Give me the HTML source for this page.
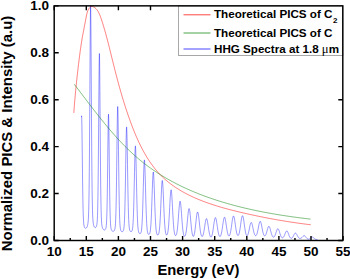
<!DOCTYPE html>
<html><head><meta charset="utf-8"><style>
html,body{margin:0;padding:0;background:#fff;overflow:hidden;}
svg{display:block;}
text{font-family:"Liberation Sans", sans-serif;font-weight:bold;fill:#000;}
</style></head><body>
<svg width="350" height="279" viewBox="0 0 350 279">
<rect width="350" height="279" fill="#fff"/>
<path d="M81.50,116.98 L81.60,115.80 L81.70,116.94 L81.90,125.54 L82.10,140.08 L82.30,157.10 L82.50,173.86 L82.70,188.64 L82.90,200.60 L83.10,209.62 L83.30,216.01 L83.50,220.32 L83.70,223.12 L83.90,224.91 L84.10,226.05 L84.30,226.81 L84.50,227.33 L84.70,227.70 L84.90,227.95 L85.10,228.13 L85.30,228.24 L85.50,228.29 L85.70,228.29 L85.90,228.24 L86.10,228.14 L86.30,227.98 L86.50,227.77 L86.70,227.49 L86.90,227.15 L87.10,226.72 L87.30,226.20 L87.50,225.54 L87.70,224.70 L87.90,223.58 L88.10,222.02 L88.30,219.70 L88.50,216.15 L88.70,210.60 L88.90,202.07 L89.10,189.41 L89.30,171.54 L89.50,147.87 L89.70,118.71 L89.90,85.76 L90.10,52.45 L90.30,24.14 L90.50,7.43 L90.60,5.20 L90.70,7.43 L90.90,24.12 L91.10,52.43 L91.30,85.73 L91.50,118.67 L91.70,147.82 L91.90,171.49 L92.10,189.34 L92.30,202.00 L92.50,210.51 L92.70,216.04 L92.90,219.58 L93.10,221.88 L93.30,223.42 L93.50,224.51 L93.70,225.32 L93.90,225.95 L94.10,226.44 L94.30,226.82 L94.50,227.12 L94.70,227.34 L94.90,227.49 L95.10,227.58 L95.30,227.60 L95.50,227.56 L95.70,227.45 L95.90,227.26 L96.10,226.99 L96.30,226.62 L96.50,226.09 L96.70,225.35 L96.90,224.25 L97.10,222.56 L97.30,219.87 L97.50,215.59 L97.70,208.91 L97.90,198.91 L98.10,184.74 L98.30,165.93 L98.50,142.77 L98.70,116.69 L98.90,90.43 L99.10,68.24 L99.30,55.22 L99.40,53.50 L99.50,55.26 L99.70,68.35 L99.90,90.61 L100.10,116.94 L100.30,143.10 L100.50,166.33 L100.70,185.22 L100.90,199.47 L101.10,209.55 L101.30,216.31 L101.50,220.68 L101.70,223.46 L101.90,225.24 L102.10,226.44 L102.30,227.29 L102.50,227.92 L102.70,228.42 L102.90,228.81 L103.10,229.14 L103.30,229.40 L103.50,229.60 L103.70,229.76 L103.90,229.88 L104.10,229.96 L104.30,230.00 L104.50,230.00 L104.70,229.95 L104.90,229.86 L105.10,229.72 L105.30,229.52 L105.50,229.23 L105.70,228.80 L105.90,228.16 L106.10,227.16 L106.30,225.56 L106.50,223.02 L106.70,219.06 L106.90,213.11 L107.10,204.63 L107.30,193.25 L107.50,179.04 L107.70,162.64 L107.90,145.46 L108.10,129.73 L108.30,118.38 L108.50,114.20 L108.50,114.20 L108.70,118.43 L108.90,129.84 L109.10,145.62 L109.30,162.85 L109.50,179.31 L109.70,193.57 L109.90,205.00 L110.10,213.53 L110.30,219.54 L110.50,223.56 L110.70,226.16 L110.90,227.81 L111.10,228.87 L111.30,229.57 L111.50,230.06 L111.70,230.41 L111.90,230.68 L112.10,230.89 L112.30,231.05 L112.50,231.16 L112.70,231.24 L112.90,231.29 L113.10,231.30 L113.30,231.28 L113.50,231.22 L113.70,231.13 L113.90,231.00 L114.10,230.81 L114.30,230.55 L114.50,230.19 L114.70,229.68 L114.90,228.91 L115.10,227.74 L115.30,225.94 L115.50,223.21 L115.70,219.15 L115.90,213.32 L116.10,205.30 L116.30,194.81 L116.50,181.81 L116.70,166.69 L116.90,150.30 L117.10,134.06 L117.30,119.89 L117.50,110.04 L117.70,106.50 L117.70,106.50 L117.90,110.08 L118.10,119.96 L118.30,134.16 L118.50,150.43 L118.70,166.85 L118.90,182.00 L119.10,195.03 L119.30,205.55 L119.50,213.60 L119.70,219.46 L119.90,223.54 L120.10,226.29 L120.30,228.11 L120.50,229.30 L120.70,230.08 L120.90,230.61 L121.10,230.98 L121.30,231.25 L121.50,231.44 L121.70,231.57 L121.90,231.65 L122.10,231.69 L122.30,231.69 L122.50,231.65 L122.70,231.56 L122.90,231.40 L123.10,231.16 L123.30,230.80 L123.50,230.25 L123.70,229.42 L123.90,228.18 L124.10,226.33 L124.30,223.63 L124.50,219.82 L124.70,214.61 L124.90,207.78 L125.10,199.18 L125.30,188.88 L125.50,177.17 L125.70,164.64 L125.90,152.17 L126.10,140.92 L126.30,132.27 L126.50,127.52 L126.60,126.90 L126.70,127.51 L126.90,132.24 L127.10,140.88 L127.30,152.11 L127.50,164.56 L127.70,177.08 L127.90,188.78 L128.10,199.06 L128.30,207.64 L128.50,214.47 L128.70,219.67 L128.90,223.47 L129.10,226.16 L129.30,228.00 L129.50,229.25 L129.70,230.07 L129.90,230.62 L130.10,230.99 L130.30,231.24 L130.50,231.41 L130.70,231.52 L130.90,231.58 L131.10,231.60 L131.30,231.57 L131.50,231.49 L131.70,231.33 L131.90,231.06 L132.10,230.64 L132.30,229.98 L132.50,228.99 L132.70,227.54 L132.90,225.46 L133.10,222.58 L133.30,218.72 L133.50,213.72 L133.70,207.50 L133.90,200.07 L134.10,191.56 L134.30,182.29 L134.50,172.73 L134.70,163.55 L134.90,155.52 L135.10,149.51 L135.30,146.29 L135.40,145.90 L135.50,146.35 L135.70,149.67 L135.90,155.79 L136.10,163.92 L136.30,173.22 L136.50,182.87 L136.70,192.25 L136.90,200.86 L137.10,208.39 L137.30,214.71 L137.50,219.80 L137.70,223.75 L137.90,226.72 L138.10,228.89 L138.30,230.43 L138.50,231.50 L138.70,232.24 L138.90,232.74 L139.10,233.08 L139.30,233.31 L139.50,233.46 L139.70,233.55 L139.90,233.60 L140.10,233.59 L140.30,233.53 L140.50,233.39 L140.70,233.14 L140.90,232.76 L141.10,232.17 L141.30,231.30 L141.50,230.07 L141.70,228.35 L141.90,226.02 L142.10,222.97 L142.30,219.09 L142.50,214.31 L142.70,208.63 L142.90,202.13 L143.10,194.98 L143.30,187.46 L143.50,179.94 L143.70,172.92 L143.90,166.93 L144.10,162.53 L144.30,160.19 L144.40,159.90 L144.50,160.21 L144.70,162.58 L144.90,167.01 L145.10,173.04 L145.30,180.10 L145.50,187.64 L145.70,195.20 L145.90,202.39 L146.10,208.93 L146.30,214.64 L146.50,219.45 L146.70,223.37 L146.90,226.46 L147.10,228.83 L147.30,230.59 L147.50,231.87 L147.70,232.78 L147.90,233.41 L148.10,233.84 L148.30,234.12 L148.50,234.29 L148.70,234.38 L148.90,234.40 L149.10,234.34 L149.30,234.19 L149.50,233.93 L149.70,233.52 L149.90,232.92 L150.10,232.05 L150.30,230.85 L150.50,229.24 L150.70,227.13 L150.90,224.45 L151.10,221.13 L151.30,217.14 L151.50,212.50 L151.70,207.27 L151.90,201.59 L152.10,195.65 L152.30,189.72 L152.50,184.11 L152.70,179.19 L152.90,175.32 L153.10,172.85 L153.30,172.00 L153.30,172.00 L153.50,172.87 L153.70,175.38 L153.90,179.27 L154.10,184.22 L154.30,189.86 L154.50,195.82 L154.70,201.78 L154.90,207.49 L155.10,212.75 L155.30,217.42 L155.50,221.44 L155.70,224.79 L155.90,227.50 L156.10,229.64 L156.30,231.29 L156.50,232.52 L156.70,233.41 L156.90,234.05 L157.10,234.49 L157.30,234.77 L157.50,234.93 L157.70,235.00 L157.90,234.97 L158.10,234.85 L158.30,234.62 L158.50,234.25 L158.70,233.72 L158.90,232.97 L159.10,231.95 L159.30,230.60 L159.50,228.87 L159.70,226.70 L159.90,224.04 L160.10,220.87 L160.30,217.21 L160.50,213.07 L160.70,208.55 L160.90,203.77 L161.10,198.90 L161.30,194.15 L161.50,189.74 L161.70,185.94 L161.90,183.00 L162.10,181.14 L162.30,180.50 L162.30,180.50 L162.50,181.15 L162.70,183.03 L162.90,185.98 L163.10,189.79 L163.30,194.21 L163.50,198.98 L163.70,203.86 L163.90,208.65 L164.10,213.19 L164.30,217.33 L164.50,221.02 L164.70,224.20 L164.90,226.87 L165.10,229.05 L165.30,230.80 L165.50,232.15 L165.70,233.18 L165.90,233.93 L166.10,234.45 L166.30,234.79 L166.50,234.96 L166.70,235.00 L166.90,234.90 L167.10,234.66 L167.30,234.26 L167.50,233.67 L167.70,232.87 L167.90,231.81 L168.10,230.46 L168.30,228.78 L168.50,226.74 L168.70,224.32 L168.90,221.53 L169.10,218.37 L169.30,214.91 L169.50,211.22 L169.70,207.40 L169.90,203.58 L170.10,199.93 L170.30,196.60 L170.50,193.77 L170.70,191.61 L170.90,190.25 L171.10,189.80 L171.10,189.80 L171.30,190.28 L171.50,191.66 L171.70,193.85 L171.90,196.70 L172.10,200.05 L172.30,203.74 L172.50,207.58 L172.70,211.42 L172.90,215.14 L173.10,218.63 L173.30,221.82 L173.50,224.64 L173.70,227.09 L173.90,229.16 L174.10,230.87 L174.30,232.25 L174.50,233.33 L174.70,234.16 L174.90,234.77 L175.10,235.20 L175.30,235.46 L175.50,235.59 L175.70,235.58 L175.90,235.45 L176.10,235.18 L176.30,234.77 L176.50,234.19 L176.70,233.43 L176.90,232.47 L177.10,231.27 L177.30,229.82 L177.50,228.12 L177.70,226.15 L177.90,223.93 L178.10,221.49 L178.30,218.87 L178.50,216.14 L178.70,213.36 L178.90,210.64 L179.10,208.08 L179.30,205.78 L179.50,203.85 L179.70,202.40 L179.90,201.49 L180.10,201.20 L180.10,201.20 L180.30,201.53 L180.50,202.47 L180.70,203.97 L180.90,205.93 L181.10,208.27 L181.30,210.88 L181.50,213.64 L181.70,216.45 L181.90,219.23 L182.10,221.89 L182.30,224.36 L182.50,226.62 L182.70,228.63 L182.90,230.37 L183.10,231.85 L183.30,233.08 L183.50,234.08 L183.70,234.86 L183.90,235.46 L184.10,235.88 L184.30,236.15 L184.50,236.28 L184.70,236.28 L184.90,236.15 L185.10,235.89 L185.30,235.48 L185.50,234.92 L185.70,234.19 L185.90,233.29 L186.10,232.20 L186.30,230.91 L186.50,229.42 L186.70,227.75 L186.90,225.90 L187.10,223.91 L187.30,221.81 L187.50,219.65 L187.70,217.50 L187.90,215.43 L188.10,213.50 L188.30,211.79 L188.50,210.38 L188.70,209.33 L188.90,208.69 L189.10,208.50 L189.10,208.50 L189.30,208.76 L189.50,209.47 L189.70,210.58 L189.90,212.06 L190.10,213.83 L190.30,215.82 L190.50,217.96 L190.70,220.17 L190.90,222.38 L191.10,224.53 L191.30,226.57 L191.50,228.46 L191.70,230.16 L191.90,231.67 L192.10,232.96 L192.30,234.04 L192.50,234.91 L192.70,235.57 L192.90,236.03 L193.10,236.31 L193.30,236.40 L193.50,236.32 L193.70,236.06 L193.90,235.63 L194.10,235.02 L194.30,234.24 L194.50,233.27 L194.70,232.13 L194.90,230.82 L195.10,229.35 L195.30,227.74 L195.50,226.01 L195.70,224.20 L195.90,222.34 L196.10,220.49 L196.30,218.69 L196.50,217.00 L196.70,215.47 L196.90,214.17 L197.10,213.14 L197.30,212.43 L197.50,212.05 L197.60,212.00 L197.70,212.04 L197.90,212.38 L198.10,213.06 L198.30,214.05 L198.50,215.32 L198.70,216.81 L198.90,218.47 L199.10,220.24 L199.30,222.07 L199.50,223.90 L199.70,225.69 L199.90,227.40 L200.10,229.00 L200.30,230.46 L200.50,231.76 L200.70,232.90 L200.90,233.88 L201.10,234.69 L201.30,235.34 L201.50,235.84 L201.70,236.20 L201.90,236.42 L202.10,236.50 L202.30,236.45 L202.50,236.28 L202.70,235.98 L202.90,235.55 L203.10,235.00 L203.30,234.31 L203.50,233.50 L203.70,232.57 L203.90,231.52 L204.10,230.37 L204.30,229.13 L204.50,227.83 L204.70,226.49 L204.90,225.15 L205.10,223.83 L205.30,222.59 L205.50,221.46 L205.70,220.47 L205.90,219.66 L206.10,219.07 L206.30,218.71 L206.50,218.60 L206.50,218.60 L206.70,218.74 L206.90,219.13 L207.10,219.76 L207.30,220.59 L207.50,221.61 L207.70,222.77 L207.90,224.05 L208.10,225.39 L208.30,226.76 L208.50,228.13 L208.70,229.46 L208.90,230.72 L209.10,231.90 L209.30,232.97 L209.50,233.93 L209.70,234.76 L209.90,235.46 L210.10,236.04 L210.30,236.49 L210.50,236.82 L210.70,237.02 L210.90,237.10 L211.10,237.06 L211.30,236.90 L211.50,236.61 L211.70,236.20 L211.90,235.66 L212.10,234.98 L212.30,234.17 L212.50,233.23 L212.70,232.16 L212.90,230.97 L213.10,229.69 L213.30,228.32 L213.50,226.90 L213.70,225.46 L213.90,224.03 L214.10,222.65 L214.30,221.37 L214.50,220.22 L214.70,219.24 L214.90,218.47 L215.10,217.93 L215.30,217.65 L215.40,217.60 L215.50,217.62 L215.70,217.86 L215.90,218.35 L216.10,219.07 L216.30,220.00 L216.50,221.10 L216.70,222.33 L216.90,223.67 L217.10,225.05 L217.30,226.45 L217.50,227.83 L217.70,229.16 L217.90,230.41 L218.10,231.56 L218.30,232.60 L218.50,233.52 L218.70,234.32 L218.90,234.98 L219.10,235.52 L219.30,235.94 L219.50,236.24 L219.70,236.43 L219.90,236.50 L220.10,236.47 L220.30,236.32 L220.50,236.06 L220.70,235.68 L220.90,235.18 L221.10,234.56 L221.30,233.81 L221.50,232.94 L221.70,231.94 L221.90,230.83 L222.10,229.61 L222.30,228.31 L222.50,226.94 L222.70,225.53 L222.90,224.12 L223.10,222.74 L223.30,221.44 L223.50,220.25 L223.70,219.21 L223.90,218.36 L224.10,217.73 L224.30,217.34 L224.50,217.20 L224.50,217.20 L224.70,217.32 L224.90,217.70 L225.10,218.32 L225.30,219.15 L225.50,220.18 L225.70,221.35 L225.90,222.64 L226.10,224.00 L226.30,225.40 L226.50,226.79 L226.70,228.14 L226.90,229.43 L227.10,230.63 L227.30,231.73 L227.50,232.70 L227.70,233.55 L227.90,234.27 L228.10,234.87 L228.30,235.33 L228.50,235.67 L228.70,235.89 L228.90,235.99 L229.10,235.98 L229.30,235.84 L229.50,235.58 L229.70,235.20 L229.90,234.69 L230.10,234.05 L230.30,233.28 L230.50,232.38 L230.70,231.35 L230.90,230.19 L231.10,228.93 L231.30,227.57 L231.50,226.15 L231.70,224.68 L231.90,223.22 L232.10,221.78 L232.30,220.43 L232.50,219.19 L232.70,218.11 L232.90,217.22 L233.10,216.56 L233.30,216.15 L233.50,216.00 L233.50,216.00 L233.70,216.12 L233.90,216.51 L234.10,217.14 L234.30,218.00 L234.50,219.06 L234.70,220.27 L234.90,221.60 L235.10,223.01 L235.30,224.45 L235.50,225.89 L235.70,227.30 L235.90,228.63 L236.10,229.87 L236.30,231.01 L236.50,232.02 L236.70,232.90 L236.90,233.66 L237.10,234.28 L237.30,234.77 L237.50,235.13 L237.70,235.37 L237.90,235.49 L238.10,235.49 L238.30,235.36 L238.50,235.12 L238.70,234.75 L238.90,234.25 L239.10,233.62 L239.30,232.86 L239.50,231.96 L239.70,230.93 L239.90,229.78 L240.10,228.52 L240.30,227.17 L240.50,225.75 L240.70,224.29 L240.90,222.83 L241.10,221.40 L241.30,220.05 L241.50,218.82 L241.70,217.75 L241.90,216.87 L242.10,216.22 L242.30,215.83 L242.50,215.70 L242.50,215.70 L242.70,215.84 L242.90,216.25 L243.10,216.92 L243.30,217.81 L243.50,218.89 L243.70,220.14 L243.90,221.51 L244.10,222.95 L244.30,224.42 L244.50,225.89 L244.70,227.32 L244.90,228.69 L245.10,229.95 L245.30,231.11 L245.50,232.14 L245.70,233.04 L245.90,233.81 L246.10,234.44 L246.30,234.94 L246.50,235.31 L246.70,235.56 L246.90,235.68 L247.10,235.69 L247.30,235.59 L247.50,235.37 L247.70,235.05 L247.90,234.62 L248.10,234.08 L248.30,233.44 L248.50,232.71 L248.70,231.89 L248.90,230.99 L249.10,230.03 L249.30,229.04 L249.50,228.03 L249.70,227.02 L249.90,226.06 L250.10,225.15 L250.30,224.35 L250.50,223.66 L250.70,223.12 L250.90,222.74 L251.10,222.53 L251.20,222.50 L251.30,222.51 L251.50,222.68 L251.70,223.02 L251.90,223.53 L252.10,224.18 L252.30,224.95 L252.50,225.82 L252.70,226.75 L252.90,227.73 L253.10,228.71 L253.30,229.68 L253.50,230.61 L253.70,231.49 L253.90,232.30 L254.10,233.03 L254.30,233.68 L254.50,234.23 L254.70,234.70 L254.90,235.07 L255.10,235.36 L255.30,235.56 L255.50,235.67 L255.70,235.70 L255.90,235.65 L256.10,235.51 L256.30,235.28 L256.50,234.96 L256.70,234.55 L256.90,234.04 L257.10,233.44 L257.30,232.74 L257.50,231.95 L257.70,231.07 L257.90,230.12 L258.10,229.11 L258.30,228.06 L258.50,227.00 L258.70,225.94 L258.90,224.93 L259.10,223.99 L259.30,223.15 L259.50,222.44 L259.70,221.89 L259.90,221.51 L260.10,221.32 L260.20,221.30 L260.30,221.33 L260.50,221.53 L260.70,221.93 L260.90,222.49 L261.10,223.22 L261.30,224.07 L261.50,225.03 L261.70,226.05 L261.90,227.12 L262.10,228.20 L262.30,229.26 L262.50,230.28 L262.70,231.24 L262.90,232.12 L263.10,232.93 L263.30,233.63 L263.50,234.24 L263.70,234.75 L263.90,235.17 L264.10,235.49 L264.30,235.71 L264.50,235.85 L264.70,235.90 L264.90,235.87 L265.10,235.75 L265.30,235.56 L265.50,235.28 L265.70,234.93 L265.90,234.49 L266.10,233.99 L266.30,233.42 L266.50,232.78 L266.70,232.10 L266.90,231.38 L267.10,230.63 L267.30,229.89 L267.50,229.16 L267.70,228.48 L267.90,227.85 L268.10,227.31 L268.30,226.87 L268.50,226.54 L268.70,226.35 L268.90,226.30 L268.90,226.30 L269.10,226.39 L269.30,226.62 L269.50,226.97 L269.70,227.45 L269.90,228.03 L270.10,228.69 L270.30,229.41 L270.50,230.18 L270.70,230.96 L270.90,231.74 L271.10,232.49 L271.30,233.22 L271.50,233.89 L271.70,234.51 L271.90,235.06 L272.10,235.55 L272.30,235.97 L272.50,236.32 L272.70,236.60 L272.90,236.82 L273.10,236.97 L273.30,237.07 L273.50,237.10 L273.70,237.08 L273.90,237.00 L274.10,236.86 L274.30,236.66 L274.50,236.40 L274.70,236.08 L274.90,235.70 L275.10,235.26 L275.30,234.77 L275.50,234.22 L275.70,233.64 L275.90,233.02 L276.10,232.39 L276.30,231.76 L276.50,231.14 L276.70,230.56 L276.90,230.02 L277.10,229.56 L277.30,229.18 L277.50,228.91 L277.70,228.75 L277.90,228.70 L277.90,228.70 L278.10,228.77 L278.30,228.97 L278.50,229.27 L278.70,229.67 L278.90,230.16 L279.10,230.72 L279.30,231.33 L279.50,231.98 L279.70,232.64 L279.90,233.30 L280.10,233.95 L280.30,234.56 L280.50,235.13 L280.70,235.65 L280.90,236.12 L281.10,236.53 L281.30,236.88 L281.50,237.17 L281.70,237.41 L281.90,237.59 L282.10,237.71 L282.30,237.78 L282.50,237.80 L282.70,237.77 L282.90,237.69 L283.10,237.56 L283.30,237.37 L283.50,237.14 L283.70,236.85 L283.90,236.51 L284.10,236.13 L284.30,235.70 L284.50,235.23 L284.70,234.74 L284.90,234.22 L285.10,233.69 L285.30,233.17 L285.50,232.67 L285.70,232.21 L285.90,231.79 L286.10,231.44 L286.30,231.17 L286.50,230.99 L286.70,230.91 L286.80,230.90 L286.90,230.92 L287.10,231.03 L287.30,231.24 L287.50,231.54 L287.70,231.91 L287.90,232.35 L288.10,232.84 L288.30,233.36 L288.50,233.91 L288.70,234.46 L288.90,235.00 L289.10,235.52 L289.30,236.01 L289.50,236.46 L289.70,236.86 L289.90,237.22 L290.10,237.52 L290.30,237.78 L290.50,237.98 L290.70,238.13 L290.90,238.23 L291.10,238.29 L291.30,238.30 L291.50,238.26 L291.70,238.18 L291.90,238.05 L292.10,237.89 L292.30,237.68 L292.50,237.42 L292.70,237.14 L292.90,236.81 L293.10,236.46 L293.30,236.08 L293.50,235.69 L293.70,235.29 L293.90,234.89 L294.10,234.51 L294.30,234.15 L294.50,233.83 L294.70,233.56 L294.90,233.35 L295.10,233.19 L295.30,233.11 L295.40,233.10 L295.50,233.10 L295.70,233.17 L295.90,233.30 L296.10,233.50 L296.30,233.76 L296.50,234.06 L296.70,234.40 L296.90,234.77 L297.10,235.15 L297.30,235.54 L297.50,235.92 L297.70,236.29 L297.90,236.64 L298.10,236.96 L298.30,237.25 L298.50,237.51 L298.70,237.73 L298.90,237.92 L299.10,238.07 L299.30,238.19 L299.50,238.29 L299.70,238.35 L299.90,238.39 L300.10,238.40 L300.30,238.39 L300.50,238.35 L300.70,238.30 L300.90,238.22 L301.10,238.11 L301.30,237.99 L301.50,237.84 L301.70,237.67 L301.90,237.49 L302.10,237.29 L302.30,237.08 L302.50,236.87 L302.70,236.65 L302.90,236.44 L303.10,236.25 L303.30,236.07 L303.50,235.93 L303.70,235.81 L303.90,235.74 L304.10,235.70 L304.30,235.71 L304.30,235.71 L304.50,235.77 L304.70,235.87 L304.90,236.01 L305.10,236.19 L305.30,236.40 L305.50,236.63 L305.70,236.88 L305.90,237.15 L306.10,237.42 L306.30,237.68 L306.50,237.94 L306.70,238.18 L306.90,238.40 L307.10,238.60 L307.30,238.77 L307.50,238.92 L307.70,239.03 L307.90,239.12 L308.10,239.17 L308.30,239.20 L308.50,239.19 L308.70,239.16 L308.90,239.11 L309.10,239.02 L309.30,238.92 L309.50,238.80 L309.70,238.66 L309.90,238.50 L310.10,238.33 L310.30,238.16 L310.50,237.98 L310.70,237.81 L310.90,237.64 L311.10,237.49 L311.30,237.36 L311.50,237.25 L311.70,237.17 L311.90,237.12 L312.10,237.10 L312.10,237.10 L312.30,237.11 L312.50,237.16 L312.70,237.24 L312.90,237.35 L313.10,237.47 L313.30,237.62 L313.50,237.79 L313.70,237.96 L313.90,238.13 L314.10,238.31 L314.30,238.48 L314.50,238.64 L314.70,238.79 L314.90,238.93 L315.10,239.06 L315.30,239.16 L315.50,239.26 L315.70,239.33 L315.90,239.40 L316.10,239.45 L316.30,239.49 L316.50,239.52 L316.70,239.54 L316.90,239.56 L317.10,239.57 L317.30,239.57 L317.50,239.57" fill="none" stroke="#0000ff" stroke-opacity="0.62" stroke-width="0.65" stroke-linejoin="round"/>
<path d="M73.83,112.92 L73.89,112.12 L73.94,111.31 L74.00,110.51 L74.06,109.70 L74.11,108.90 L74.17,108.10 L74.23,107.30 L74.29,106.50 L74.36,105.70 L74.42,104.90 L74.48,104.10 L74.55,103.30 L74.61,102.50 L74.68,101.71 L74.74,100.91 L74.81,100.11 L74.88,99.32 L74.95,98.52 L75.02,97.73 L75.09,96.93 L75.16,96.14 L75.23,95.35 L75.30,94.55 L75.37,93.76 L75.45,92.97 L75.52,92.18 L75.60,91.38 L75.67,90.59 L75.75,89.80 L75.82,89.01 L75.90,88.22 L75.98,87.42 L76.06,86.63 L76.14,85.84 L76.22,85.05 L76.30,84.26 L76.38,83.47 L76.46,82.68 L76.55,81.88 L76.63,81.09 L76.72,80.30 L76.80,79.51 L76.89,78.72 L76.97,77.92 L77.06,77.13 L77.15,76.34 L77.23,75.54 L77.32,74.75 L77.41,73.96 L77.50,73.16 L77.59,72.37 L77.68,71.57 L77.77,70.78 L77.87,69.98 L77.96,69.18 L78.05,68.39 L78.14,67.59 L78.24,66.79 L78.33,65.99 L78.43,65.19 L78.52,64.39 L78.62,63.59 L78.72,62.79 L78.82,61.99 L78.91,61.19 L79.01,60.38 L79.11,59.58 L79.21,58.78 L79.31,57.98 L79.41,57.17 L79.52,56.37 L79.62,55.57 L79.73,54.77 L79.83,53.97 L79.94,53.17 L80.04,52.37 L80.15,51.58 L80.26,50.78 L80.37,49.98 L80.48,49.19 L80.60,48.40 L80.71,47.60 L80.83,46.81 L80.94,46.02 L81.06,45.24 L81.18,44.45 L81.30,43.67 L81.42,42.89 L81.54,42.11 L81.67,41.33 L81.80,40.56 L81.92,39.78 L82.05,39.01 L82.18,38.25 L82.31,37.48 L82.45,36.72 L82.58,35.96 L82.72,35.21 L82.86,34.45 L83.00,33.70 L83.14,32.95 L83.29,32.20 L83.43,31.44 L83.58,30.69 L83.72,29.93 L83.87,29.18 L84.02,28.41 L84.17,27.65 L84.32,26.88 L84.47,26.10 L84.63,25.32 L84.78,24.53 L84.93,23.73 L85.09,22.93 L85.24,22.11 L85.40,21.29 L85.56,20.46 L85.71,19.61 L85.87,18.76 L86.03,17.89 L86.19,17.01 L86.35,16.12 L86.53,15.24 L86.72,14.36 L86.92,13.49 L87.15,12.64 L87.41,11.81 L87.70,11.00 L88.02,10.23 L88.38,9.49 L88.79,8.81 L89.23,8.18 L89.71,7.63 L90.22,7.17 L90.76,6.82 L91.33,6.60 L91.93,6.51 L92.55,6.57 L93.18,6.76 L93.80,7.04 L94.41,7.40 L94.98,7.81 L95.53,8.26 L96.05,8.75 L96.53,9.28 L97.00,9.84 L97.43,10.44 L97.85,11.07 L98.24,11.72 L98.62,12.40 L98.97,13.10 L99.31,13.82 L99.63,14.56 L99.94,15.32 L100.24,16.09 L100.53,16.87 L100.81,17.65 L101.08,18.45 L101.35,19.24 L101.61,20.04 L101.87,20.83 L102.13,21.63 L102.38,22.42 L102.63,23.22 L102.88,24.01 L103.13,24.80 L103.37,25.59 L103.61,26.38 L103.85,27.17 L104.08,27.96 L104.31,28.75 L104.55,29.54 L104.77,30.33 L105.00,31.12 L105.22,31.90 L105.44,32.69 L105.66,33.48 L105.88,34.26 L106.10,35.05 L106.31,35.83 L106.52,36.61 L106.73,37.40 L106.94,38.18 L107.15,38.96 L107.35,39.74 L107.56,40.52 L107.76,41.30 L107.96,42.08 L108.16,42.86 L108.36,43.64 L108.56,44.42 L108.76,45.20 L108.95,45.98 L109.15,46.75 L109.34,47.53 L109.54,48.31 L109.73,49.08 L109.92,49.86 L110.11,50.63 L110.30,51.40 L110.49,52.18 L110.68,52.95 L110.87,53.72 L111.06,54.50 L111.25,55.27 L111.44,56.04 L111.63,56.81 L111.82,57.58 L112.01,58.35 L112.20,59.12 L112.39,59.89 L112.58,60.66 L112.77,61.43 L112.96,62.20 L113.15,62.97 L113.34,63.74 L113.53,64.51 L113.72,65.27 L113.91,66.04 L114.11,66.81 L114.30,67.57 L114.49,68.34 L114.69,69.11 L114.88,69.87 L115.08,70.64 L115.27,71.40 L115.47,72.17 L115.67,72.93 L115.86,73.70 L116.06,74.46 L116.26,75.22 L116.46,75.99 L116.66,76.75 L116.86,77.52 L117.06,78.28 L117.26,79.04 L117.47,79.80 L117.67,80.57 L117.87,81.33 L118.08,82.09 L118.29,82.85 L118.49,83.61 L118.70,84.38 L118.91,85.14 L119.12,85.90 L119.33,86.66 L119.54,87.42 L119.76,88.18 L119.97,88.94 L120.19,89.71 L120.40,90.47 L120.62,91.23 L120.84,91.99 L121.06,92.75 L121.28,93.51 L121.50,94.27 L121.72,95.03 L121.95,95.79 L122.17,96.55 L122.40,97.31 L122.63,98.07 L122.86,98.83 L123.09,99.59 L123.32,100.35 L123.55,101.11 L123.79,101.87 L124.02,102.63 L124.26,103.39 L124.50,104.15 L124.74,104.91 L124.98,105.67 L125.22,106.44 L125.47,107.20 L125.71,107.96 L125.96,108.72 L126.21,109.48 L126.46,110.24 L126.71,111.00 L126.97,111.76 L127.22,112.52 L127.48,113.28 L127.74,114.05 L128.00,114.81 L128.27,115.57 L128.53,116.33 L128.80,117.09 L129.06,117.86 L129.33,118.62 L129.61,119.38 L129.88,120.14 L130.16,120.91 L130.43,121.67 L130.71,122.43 L130.99,123.20 L131.28,123.96 L131.56,124.72 L131.85,125.48 L132.14,126.25 L132.43,127.01 L132.73,127.77 L133.02,128.53 L133.32,129.29 L133.62,130.05 L133.93,130.81 L134.23,131.57 L134.54,132.32 L134.85,133.08 L135.17,133.83 L135.48,134.59 L135.80,135.34 L136.12,136.09 L136.45,136.84 L136.78,137.59 L137.11,138.34 L137.44,139.08 L137.77,139.83 L138.11,140.57 L138.45,141.31 L138.80,142.05 L139.15,142.79 L139.50,143.52 L139.85,144.26 L140.21,144.99 L140.57,145.72 L140.93,146.44 L141.30,147.17 L141.67,147.89 L142.04,148.61 L142.42,149.33 L142.80,150.04 L143.18,150.75 L143.57,151.46 L143.96,152.17 L144.35,152.87 L144.75,153.57 L145.15,154.27 L145.55,154.96 L145.96,155.66 L146.37,156.34 L146.79,157.03 L147.21,157.71 L147.63,158.39 L148.06,159.06 L148.49,159.73 L148.93,160.40 L149.37,161.07 L149.81,161.73 L150.26,162.38 L150.71,163.03 L151.17,163.68 L151.63,164.33 L152.09,164.97 L152.56,165.60 L153.04,166.24 L153.51,166.86 L154.00,167.49 L154.48,168.10 L154.97,168.72 L155.47,169.33 L155.97,169.93 L156.47,170.53 L156.98,171.13 L157.50,171.72 L158.02,172.31 L158.54,172.89 L159.07,173.46 L159.60,174.03 L160.14,174.60 L160.68,175.16 L161.23,175.71 L161.79,176.26 L162.34,176.80 L162.91,177.34 L163.47,177.88 L164.05,178.40 L164.62,178.93 L165.20,179.44 L165.79,179.96 L166.38,180.47 L166.98,180.97 L167.58,181.47 L168.18,181.96 L168.79,182.45 L169.40,182.93 L170.02,183.41 L170.64,183.88 L171.26,184.35 L171.89,184.82 L172.52,185.28 L173.16,185.73 L173.80,186.18 L174.45,186.63 L175.09,187.07 L175.75,187.50 L176.40,187.94 L177.06,188.36 L177.72,188.79 L178.39,189.21 L179.06,189.62 L179.73,190.03 L180.41,190.44 L181.09,190.84 L181.77,191.24 L182.46,191.63 L183.15,192.02 L183.84,192.41 L184.54,192.79 L185.24,193.17 L185.94,193.54 L186.65,193.91 L187.36,194.28 L188.07,194.64 L188.78,195.00 L189.50,195.35 L190.22,195.70 L190.94,196.05 L191.66,196.39 L192.39,196.73 L193.12,197.07 L193.85,197.40 L194.58,197.73 L195.32,198.06 L196.06,198.38 L196.80,198.70 L197.54,199.01 L198.29,199.32 L199.04,199.63 L199.79,199.94 L200.54,200.24 L201.29,200.54 L202.05,200.84 L202.80,201.13 L203.56,201.42 L204.32,201.71 L205.09,201.99 L205.85,202.27 L206.62,202.55 L207.38,202.82 L208.15,203.09 L208.92,203.36 L209.69,203.63 L210.46,203.89 L211.24,204.15 L212.01,204.41 L212.79,204.67 L213.57,204.92 L214.35,205.17 L215.13,205.42 L215.91,205.67 L216.69,205.91 L217.47,206.15 L218.25,206.39 L219.04,206.62 L219.82,206.86 L220.61,207.09 L221.39,207.32 L222.18,207.54 L222.97,207.77 L223.75,207.99 L224.54,208.21 L225.33,208.43 L226.12,208.65 L226.91,208.86 L227.70,209.07 L228.49,209.28 L229.27,209.49 L230.06,209.70 L230.85,209.90 L231.64,210.10 L232.43,210.31 L233.22,210.51 L234.01,210.70 L234.80,210.90 L235.59,211.09 L236.38,211.29 L237.16,211.48 L237.95,211.67 L238.74,211.86 L239.52,212.04 L240.31,212.23 L241.09,212.41 L241.88,212.60 L242.66,212.78 L243.44,212.96 L244.23,213.14 L245.01,213.32 L245.79,213.50 L246.57,213.67 L247.34,213.85 L248.12,214.02 L248.90,214.19 L249.67,214.36 L250.45,214.53 L251.22,214.70 L252.00,214.87 L252.77,215.04 L253.54,215.21 L254.31,215.37 L255.08,215.54 L255.85,215.70 L256.62,215.86 L257.39,216.02 L258.16,216.18 L258.93,216.34 L259.70,216.50 L260.47,216.66 L261.24,216.81 L262.00,216.97 L262.77,217.12 L263.54,217.27 L264.31,217.43 L265.07,217.58 L265.84,217.73 L266.61,217.87 L267.38,218.02 L268.14,218.17 L268.91,218.32 L269.68,218.46 L270.45,218.60 L271.21,218.75 L271.98,218.89 L272.75,219.03 L273.52,219.17 L274.29,219.31 L275.06,219.45 L275.83,219.59 L276.60,219.72 L277.37,219.86 L278.14,219.99 L278.92,220.13 L279.69,220.26 L280.46,220.39 L281.24,220.52 L282.01,220.65 L282.79,220.78 L283.57,220.91 L284.34,221.03 L285.12,221.16 L285.90,221.29 L286.68,221.41 L287.46,221.54 L288.25,221.66 L289.03,221.78 L289.82,221.90 L290.60,222.02 L291.39,222.14 L292.18,222.26 L292.97,222.38 L293.76,222.49 L294.55,222.61 L295.35,222.73 L296.14,222.84 L296.94,222.95 L297.74,223.07 L298.54,223.18 L299.34,223.29 L300.14,223.40 L300.94,223.51 L301.75,223.62 L302.56,223.73 L303.37,223.83 L304.18,223.94 L304.99,224.05 L305.81,224.15 L306.63,224.26 L307.45,224.36 L308.27,224.46 L309.09,224.56 L309.92,224.67 L310.74,224.77" fill="none" stroke="#ff0000" stroke-opacity="0.8" stroke-width="0.65"/>
<path d="M74.25,84.23 L74.72,84.85 L75.20,85.48 L75.68,86.10 L76.16,86.72 L76.64,87.35 L77.11,87.98 L77.59,88.60 L78.07,89.23 L78.55,89.86 L79.03,90.49 L79.51,91.12 L79.98,91.75 L80.46,92.38 L80.94,93.02 L81.42,93.65 L81.90,94.28 L82.38,94.92 L82.86,95.55 L83.34,96.18 L83.83,96.82 L84.31,97.45 L84.79,98.09 L85.27,98.72 L85.75,99.36 L86.24,100.00 L86.72,100.63 L87.21,101.27 L87.69,101.91 L88.17,102.54 L88.66,103.18 L89.15,103.82 L89.63,104.45 L90.12,105.09 L90.61,105.73 L91.10,106.37 L91.59,107.00 L92.08,107.64 L92.57,108.28 L93.06,108.91 L93.55,109.55 L94.04,110.18 L94.53,110.82 L95.03,111.45 L95.52,112.09 L96.02,112.72 L96.51,113.36 L97.01,113.99 L97.51,114.63 L98.00,115.26 L98.50,115.89 L99.00,116.52 L99.50,117.15 L100.01,117.78 L100.51,118.41 L101.01,119.04 L101.52,119.67 L102.02,120.30 L102.53,120.93 L103.04,121.55 L103.54,122.18 L104.05,122.80 L104.56,123.43 L105.08,124.05 L105.59,124.67 L106.10,125.29 L106.62,125.91 L107.13,126.53 L107.65,127.15 L108.17,127.77 L108.69,128.38 L109.21,129.00 L109.73,129.61 L110.25,130.22 L110.78,130.83 L111.30,131.44 L111.83,132.05 L112.36,132.66 L112.88,133.26 L113.42,133.87 L113.95,134.47 L114.48,135.07 L115.01,135.67 L115.55,136.27 L116.09,136.87 L116.63,137.46 L117.17,138.06 L117.71,138.65 L118.25,139.24 L118.79,139.83 L119.34,140.41 L119.89,141.00 L120.44,141.58 L120.99,142.17 L121.54,142.75 L122.09,143.32 L122.65,143.90 L123.20,144.47 L123.76,145.05 L124.32,145.62 L124.88,146.18 L125.45,146.75 L126.01,147.31 L126.58,147.88 L127.15,148.44 L127.72,148.99 L128.29,149.55 L128.86,150.10 L129.44,150.65 L130.02,151.20 L130.60,151.75 L131.18,152.29 L131.76,152.84 L132.34,153.38 L132.93,153.91 L133.52,154.45 L134.11,154.98 L134.70,155.51 L135.29,156.04 L135.89,156.56 L136.49,157.08 L137.09,157.60 L137.69,158.12 L138.29,158.63 L138.90,159.14 L139.51,159.65 L140.12,160.15 L140.73,160.66 L141.35,161.16 L141.96,161.65 L142.58,162.15 L143.20,162.64 L143.82,163.13 L144.45,163.61 L145.08,164.10 L145.70,164.58 L146.33,165.06 L146.97,165.53 L147.60,166.00 L148.24,166.47 L148.88,166.94 L149.52,167.40 L150.16,167.86 L150.80,168.32 L151.45,168.78 L152.10,169.23 L152.75,169.68 L153.40,170.13 L154.05,170.57 L154.71,171.02 L155.36,171.46 L156.02,171.89 L156.68,172.33 L157.35,172.76 L158.01,173.19 L158.68,173.62 L159.34,174.04 L160.01,174.47 L160.68,174.88 L161.36,175.30 L162.03,175.72 L162.71,176.13 L163.39,176.54 L164.07,176.94 L164.75,177.35 L165.43,177.75 L166.11,178.15 L166.80,178.55 L167.49,178.94 L168.18,179.33 L168.87,179.72 L169.56,180.11 L170.25,180.49 L170.95,180.87 L171.65,181.25 L172.34,181.63 L173.04,182.01 L173.75,182.38 L174.45,182.75 L175.15,183.12 L175.86,183.48 L176.57,183.85 L177.27,184.21 L177.98,184.56 L178.70,184.92 L179.41,185.27 L180.12,185.63 L180.84,185.98 L181.56,186.32 L182.27,186.67 L182.99,187.01 L183.71,187.35 L184.44,187.69 L185.16,188.02 L185.88,188.36 L186.61,188.69 L187.34,189.02 L188.07,189.34 L188.80,189.67 L189.53,189.99 L190.26,190.31 L190.99,190.63 L191.73,190.94 L192.46,191.26 L193.20,191.57 L193.94,191.88 L194.68,192.18 L195.42,192.49 L196.16,192.79 L196.90,193.09 L197.64,193.39 L198.39,193.69 L199.13,193.98 L199.88,194.28 L200.63,194.57 L201.38,194.86 L202.13,195.14 L202.88,195.43 L203.63,195.71 L204.38,195.99 L205.13,196.27 L205.89,196.54 L206.64,196.82 L207.40,197.09 L208.16,197.36 L208.92,197.63 L209.68,197.90 L210.44,198.16 L211.20,198.42 L211.96,198.68 L212.72,198.94 L213.48,199.20 L214.25,199.45 L215.01,199.71 L215.78,199.96 L216.54,200.21 L217.31,200.45 L218.08,200.70 L218.85,200.94 L219.62,201.19 L220.39,201.43 L221.16,201.66 L221.93,201.90 L222.70,202.13 L223.48,202.37 L224.25,202.60 L225.02,202.83 L225.80,203.05 L226.57,203.28 L227.35,203.50 L228.13,203.73 L228.90,203.95 L229.68,204.17 L230.46,204.38 L231.24,204.60 L232.02,204.81 L232.80,205.02 L233.58,205.23 L234.36,205.44 L235.14,205.65 L235.92,205.85 L236.71,206.06 L237.49,206.26 L238.27,206.46 L239.05,206.66 L239.84,206.86 L240.62,207.05 L241.41,207.25 L242.19,207.44 L242.98,207.63 L243.77,207.82 L244.55,208.01 L245.34,208.19 L246.12,208.38 L246.91,208.56 L247.70,208.74 L248.49,208.92 L249.28,209.10 L250.06,209.28 L250.85,209.45 L251.64,209.63 L252.43,209.80 L253.22,209.97 L254.01,210.14 L254.80,210.31 L255.59,210.47 L256.38,210.64 L257.17,210.80 L257.96,210.97 L258.75,211.13 L259.54,211.29 L260.33,211.45 L261.12,211.60 L261.91,211.76 L262.70,211.91 L263.49,212.07 L264.28,212.22 L265.07,212.37 L265.86,212.52 L266.65,212.66 L267.44,212.81 L268.23,212.95 L269.02,213.10 L269.82,213.24 L270.61,213.38 L271.40,213.52 L272.19,213.66 L272.98,213.80 L273.77,213.93 L274.56,214.07 L275.35,214.20 L276.14,214.34 L276.93,214.47 L277.72,214.60 L278.50,214.73 L279.29,214.85 L280.08,214.98 L280.87,215.11 L281.66,215.23 L282.45,215.35 L283.23,215.48 L284.02,215.60 L284.81,215.72 L285.60,215.84 L286.38,215.95 L287.17,216.07 L287.95,216.19 L288.74,216.30 L289.53,216.41 L290.31,216.53 L291.09,216.64 L291.88,216.75 L292.66,216.86 L293.45,216.97 L294.23,217.07 L295.01,217.18 L295.79,217.28 L296.57,217.39 L297.35,217.49 L298.14,217.59 L298.92,217.70 L299.69,217.80 L300.47,217.90 L301.25,217.99 L302.03,218.09 L302.81,218.19 L303.58,218.29 L304.36,218.38 L305.13,218.47 L305.91,218.57 L306.68,218.66 L307.46,218.75 L308.23,218.84 L309.00,218.93 L309.77,219.02 L310.55,219.11" fill="none" stroke="#008000" stroke-opacity="0.8" stroke-width="0.65"/>
<path d="M54.20,240.5 V236.00 M70.25,240.5 V238.00 M86.30,240.5 V236.00 M102.35,240.5 V238.00 M118.40,240.5 V236.00 M134.45,240.5 V238.00 M150.50,240.5 V236.00 M166.55,240.5 V238.00 M182.60,240.5 V236.00 M198.65,240.5 V238.00 M214.70,240.5 V236.00 M230.75,240.5 V238.00 M246.80,240.5 V236.00 M262.85,240.5 V238.00 M278.90,240.5 V236.00 M294.95,240.5 V238.00 M311.00,240.5 V236.00 M327.05,240.5 V238.00 M343.10,240.5 V236.00 M54.20,5.85 V10.35 M86.30,5.85 V10.35 M118.40,5.85 V10.35 M150.50,5.85 V10.35 M54.2,240.50 H58.70 M342.8,240.50 H338.30 M54.2,193.57 H58.70 M342.8,193.57 H338.30 M54.2,146.64 H58.70 M342.8,146.64 H338.30 M54.2,99.71 H58.70 M342.8,99.71 H338.30 M54.2,52.78 H58.70 M54.2,5.85 H58.70" stroke="#000" stroke-width="1.4" fill="none"/>
<rect x="178.5" y="5.85" width="164.3" height="49.6" fill="#fff" stroke="#999" stroke-width="0.85"/>
<rect x="54.2" y="5.85" width="288.6" height="234.65" fill="none" stroke="#000" stroke-width="1.45"/>
<path d="M183.5,14.8 H210.5" stroke="#ff0000" stroke-opacity="0.8" stroke-width="0.9"/>
<path d="M183.5,33 H210.5" stroke="#008000" stroke-opacity="0.8" stroke-width="0.9"/>
<path d="M183.5,49 H210.5" stroke="#0000ff" stroke-opacity="0.8" stroke-width="0.9"/>
<g font-size="11">
<text x="214" y="18.1" textLength="118.5" lengthAdjust="spacingAndGlyphs">Theoretical PICS of C</text><text x="333" y="23" font-size="8">2</text>
<text x="214" y="36.5" textLength="118.5" lengthAdjust="spacingAndGlyphs">Theoretical PICS of C</text>
<text x="214" y="52.5" textLength="125" lengthAdjust="spacingAndGlyphs">HHG Spectra at 1.8 <tspan style="font-family:'Liberation Serif',serif;font-weight:normal" font-size="12">μ</tspan>m</text>
</g>
<g font-size="13.5"><text x="49" y="245.10" text-anchor="end">0.0</text><text x="49" y="198.17" text-anchor="end">0.2</text><text x="49" y="151.24" text-anchor="end">0.4</text><text x="49" y="104.31" text-anchor="end">0.6</text><text x="49" y="57.38" text-anchor="end">0.8</text><text x="49" y="10.45" text-anchor="end">1.0</text><text x="54.20" y="255.6" text-anchor="middle">10</text><text x="86.30" y="255.6" text-anchor="middle">15</text><text x="118.40" y="255.6" text-anchor="middle">20</text><text x="150.50" y="255.6" text-anchor="middle">25</text><text x="182.60" y="255.6" text-anchor="middle">30</text><text x="214.70" y="255.6" text-anchor="middle">35</text><text x="246.80" y="255.6" text-anchor="middle">40</text><text x="278.90" y="255.6" text-anchor="middle">45</text><text x="311.00" y="255.6" text-anchor="middle">50</text><text x="343.10" y="255.6" text-anchor="middle">55</text></g>
<text x="157.5" y="275.4" font-size="14" textLength="82" lengthAdjust="spacingAndGlyphs">Energy (eV)</text>
<text transform="translate(11.7,251.2) rotate(-90)" x="0" y="0" font-size="14" textLength="235.5" lengthAdjust="spacingAndGlyphs">Normalized PICS &amp; Intensity (a.u)</text>
</svg>
</body></html>
